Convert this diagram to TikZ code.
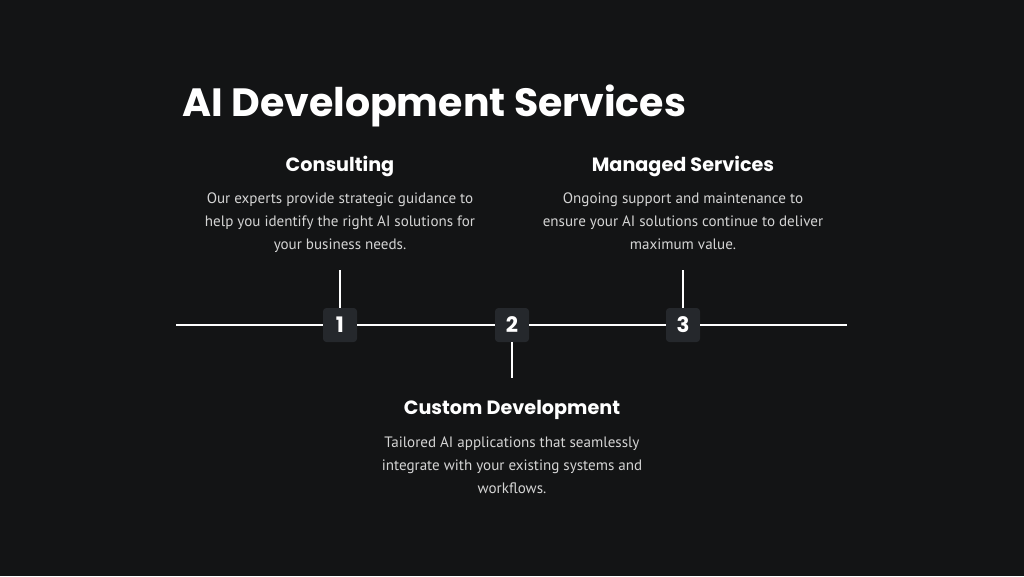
\documentclass[tikz,border=0pt]{standalone}
\usepackage{fontspec}
\setmainfont{PT Sans}
\newfontfamily\headfont{Poppins}
\usetikzlibrary{positioning}
\definecolor{bgdark}{HTML}{131415}
\definecolor{badgefill}{HTML}{25282C}
\definecolor{bodygray}{HTML}{D4D4D4}

\begin{document}
\begin{tikzpicture}[
  x=0.75pt, y=-0.75pt,
  badge/.style={
    rectangle,
    fill=badgefill,
    rounded corners=2.5pt,
    minimum width=25.5pt,
    minimum height=25.5pt,
    inner sep=0pt,
    text=white,
    font=\headfont\fontsize{16}{16}\selectfont\bfseries
  },
  heading/.style={
    text=white,
    font=\headfont\fontsize{14.4}{16}\selectfont\bfseries,
    inner sep=0pt
  },
  blurb/.style={
    text=bodygray,
    align=center,
    font=\fontsize{11.3}{17.3}\selectfont,
    inner sep=0pt
  },
  stem/.style={
    draw=white,
    line width=1.5pt
  }
]

% Background
\fill[bgdark] (0,0) rectangle (1024,576);
\useasboundingbox (0,0) rectangle (1024,576);

% Title
\node[text=white, anchor=west, inner sep=0pt,
  font=\headfont\fontsize{29.6}{30}\selectfont\bfseries]
  (title) at (182,106) {AI Development Services};

% Timeline ends
\coordinate (lineL) at (176,325);
\coordinate (lineR) at (847,325);

% Badges
\node[badge] (one)   at (340,325) {1};
\node[badge] (two)   at (512,325) {2};
\node[badge] (three) at (683,325) {3};

% Stem ends
\coordinate (topone)   at (340,270);
\coordinate (topthree) at (683,270);
\coordinate (bottwo)   at (512,378);

% Timeline
\draw[stem] (lineL) -- (one);
\draw[stem] (one) -- (two);
\draw[stem] (two) -- (three);
\draw[stem] (three) -- (lineR);

% Stems
\draw[stem] (topone) -- (one);
\draw[stem] (topthree) -- (three);
\draw[stem] (two) -- (bottwo);

% Headings
\node[heading] (consult) at (340,166) {Consulting};
\node[heading] (managed) at (683,166) {Managed Services};
\node[heading] (custom)  at (512,410) {Custom Development};

% Descriptions
\node[blurb, anchor=north] (consulttxt) at (340,192.5)
  {Our experts provide strategic guidance to\\
   help you identify the right AI solutions for\\
   your business needs.};
\node[blurb, anchor=north] (managedtxt) at (683,192.5)
  {Ongoing support and maintenance to\\
   ensure your AI solutions continue to deliver\\
   maximum value.};
\node[blurb, anchor=north] (customtxt) at (512,436.5)
  {Tailored AI applications that seamlessly\\
   integrate with your existing systems and\\
   workflows.};

\end{tikzpicture}
\end{document}
